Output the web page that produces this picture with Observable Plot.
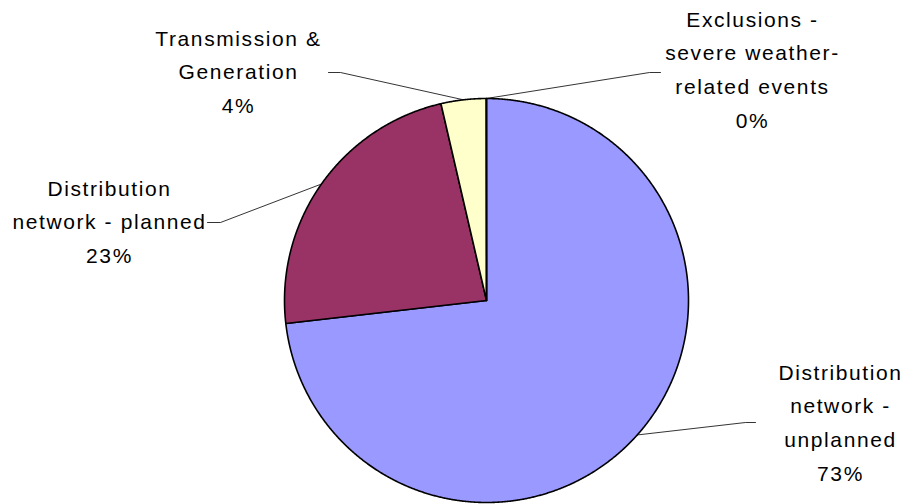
<!DOCTYPE html>
<html>
<head>
<meta charset="utf-8">
<script src="https://cdn.jsdelivr.net/npm/d3@7"></script>
<script src="https://cdn.jsdelivr.net/npm/@observablehq/plot@0.6"></script>
<style>
  html, body { margin: 0; padding: 0; background: #fff; }
  #chart { width: 916px; height: 504px; }
</style>
</head>
<body>
<div id="chart"></div>
<script>
// ---- data (clockwise from 12 o'clock) ----
const names = [
  "Distribution network - unplanned",
  "Distribution network - planned",
  "Transmission & Generation",
  "Exclusions - severe weather-related events"
];
const labelTexts = [
  "Distribution\nnetwork -\nunplanned",
  "Distribution\nnetwork - planned",
  "Transmission &\nGeneration",
  "Exclusions -\nsevere weather-\nrelated events"
];
const values = [73.2, 23.2, 3.6, 0.02];
const colors = ["#9999FF", "#993366", "#FFFFCC", "#CCFFFF"];

// ---- layout (pixels) ----
const pie = {cx: 486, cy: 300, r: 202};
const labelAt = [[840, 419], [109, 218], [238, 68], [752, 66]];
const leaderElbow = [[745, 422], [220, 222], [340, 72], [649, 72]];
const leaderEnd = [[755, 422], [207, 222], [328, 72], [660, 72]];

// ---- build geometry from data ----
const arcs = d3.pie().sort(null).value(d => d)(values);
const pt = (a, r) => ({x: pie.cx + r * Math.sin(a), y: pie.cy - r * Math.cos(a)});

const slicePts = [];
arcs.forEach((a, i) => {
  slicePts.push({name: names[i], x: pie.cx, y: pie.cy});
  const n = Math.max(1, Math.ceil((a.endAngle - a.startAngle) / (Math.PI / 720)));
  for (let k = 0; k <= n; k++) {
    const t = a.startAngle + (a.endAngle - a.startAngle) * k / n;
    slicePts.push({name: names[i], ...pt(t, pie.r)});
  }
});

const leaderPts = [];
arcs.forEach((a, i) => {
  const mid = (a.startAngle + a.endAngle) / 2;
  leaderPts.push({name: names[i], ...pt(mid, pie.r)});
  leaderPts.push({name: names[i], x: leaderElbow[i][0], y: leaderElbow[i][1]});
  leaderPts.push({name: names[i], x: leaderEnd[i][0], y: leaderEnd[i][1]});
});

const labels = names.map((n, i) => ({
  name: n,
  x: labelAt[i][0],
  y: labelAt[i][1],
  text: labelTexts[i] + "\n" + Math.round(values[i]) + "%"
}));

const chart = Plot.plot({
  width: 916,
  height: 504,
  margin: 0,
  style: {background: "#fff", letterSpacing: "1.6px", fontFamily: "'Liberation Sans', Arial, sans-serif"},
  x: {domain: [0, 916], range: [0, 916], axis: null},
  y: {domain: [0, 504], range: [0, 504], axis: null},
  color: {domain: names, range: colors},
  marks: [
    Plot.line(slicePts, {x: "x", y: "y", z: "name", fill: "name", stroke: "#000",
      strokeWidth: 1.6, curve: "linear-closed", strokeLinejoin: "round"}),
    Plot.line(leaderPts, {x: "x", y: "y", z: "name", stroke: "#000", strokeWidth: 0.8}),
    Plot.text(labels, {x: "x", y: "y", text: "text", fontSize: 21, lineHeight: 1.6,
      lineAnchor: "middle", textAnchor: "middle", fill: "#000",
      fontFamily: "'Liberation Sans', Arial, sans-serif"})
  ]
});
document.getElementById("chart").appendChild(chart);
</script>
</body>
</html>
